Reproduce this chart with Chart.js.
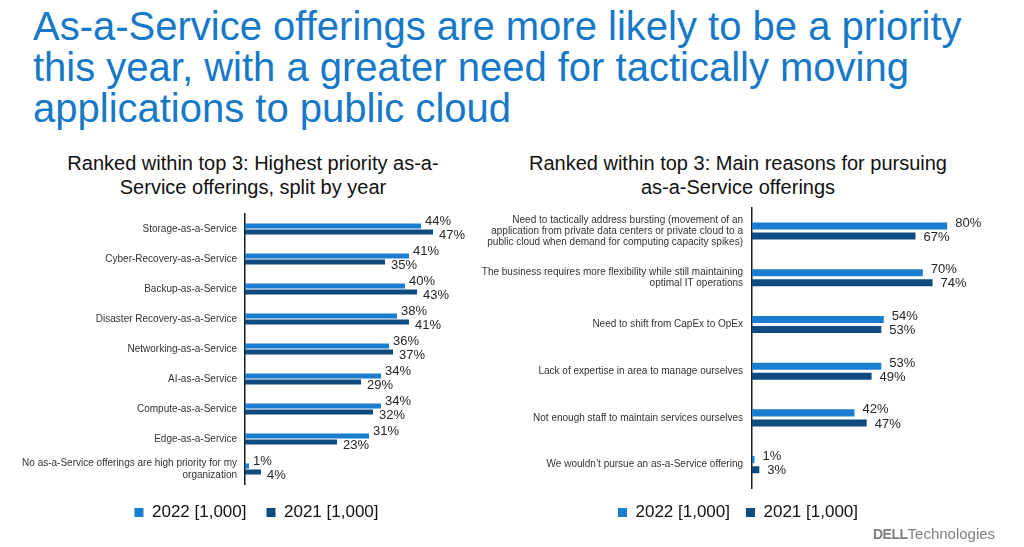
<!DOCTYPE html>
<html>
<head>
<meta charset="utf-8">
<script src="https://cdn.jsdelivr.net/npm/chart.js@4.4.1/dist/chart.umd.min.js"></script>
<style>
  html, body { margin: 0; padding: 0; background: #fff; }
  body { width: 1024px; height: 547px; position: relative; overflow: hidden; font-family: "Liberation Sans", Arial, sans-serif; }
  #title { position: absolute; left: 33px; top: 6px; font-size: 40px; line-height: 41px; color: #1778c8; white-space: nowrap; }
  .sub { position: absolute; font-size: 20px; line-height: 24px; color: #111; text-align: center; white-space: nowrap; }
  #subL { left: 53px; width: 400px; top: 151px; }
  #subR { left: 518px; width: 440px; top: 151px; }
  #cL { position: absolute; left: 16px; top: 194px; }
  #cR { position: absolute; left: 456px; top: 193px; }
  #logo { position: absolute; left: 873px; top: 525px; font-size: 15px; color: #7f7f7f; white-space: nowrap; }
  #logo b { font-size: 14px; letter-spacing: -0.5px; }
</style>
</head>
<body>
<div id="title">As-a-Service offerings are more likely to be a priority<br>this year, with a greater need for tactically moving<br>applications to public cloud</div>
<div class="sub" id="subL">Ranked within top 3: Highest priority as-a-<br>Service offerings, split by year</div>
<div class="sub" id="subR">Ranked within top 3: Main reasons for pursuing<br>as-a-Service offerings</div>
<canvas id="cL" width="484" height="337"></canvas>
<canvas id="cR" width="568" height="338"></canvas>
<div id="logo"><b>DELL</b>Technologies</div>
<script>
// ---- Data ----
const seriesNames = ['2022 [1,000]', '2021 [1,000]'];

const offeringCategories = [
  'Storage-as-a-Service',
  'Cyber-Recovery-as-a-Service',
  'Backup-as-a-Service',
  'Disaster Recovery-as-a-Service',
  'Networking-as-a-Service',
  'AI-as-a-Service',
  'Compute-as-a-Service',
  'Edge-as-a-Service',
  ['No as-a-Service offerings are high priority for my', 'organization']
];
const offerings2022 = [44, 41, 40, 38, 36, 34, 34, 31, 1];
const offerings2021 = [47, 35, 43, 41, 37, 29, 32, 23, 4];

const reasonCategories = [
  ['Need to tactically address bursting (movement of an', 'application from private data centers or private cloud to a', 'public cloud when demand for computing capacity spikes)'],
  ['The business requires more flexibility while still maintaining', 'optimal IT operations'],
  'Need to shift from CapEx to OpEx',
  'Lack of expertise in area to manage ourselves',
  'Not enough staff to maintain services ourselves',
  'We wouldn\u2019t pursue an as-a-Service offering'
];
const reasons2022 = [80, 70, 54, 53, 42, 1];
const reasons2021 = [67, 74, 53, 49, 47, 3];

// ---- Styles ----
const COLOR_2022 = '#1a7dcf';
const COLOR_2021 = '#0f4a80';
const FONT = '"Liberation Sans", Arial, sans-serif';

function valueLabelPlugin(dx22, dy22, dx21, dy21) {
  return {
    id: 'valueLabels',
    afterDatasetsDraw(chart) {
      const ctx = chart.ctx;
      ctx.save();
      ctx.font = '13px ' + FONT;
      ctx.fillStyle = '#262626';
      ctx.textAlign = 'left';
      ctx.textBaseline = 'middle';
      chart.data.datasets.forEach((ds, di) => {
        const meta = chart.getDatasetMeta(di);
        meta.data.forEach((bar, i) => {
          const dx = di === 0 ? dx22 : dx21;
          const dy = di === 0 ? dy22 : dy21;
          ctx.fillText(ds.data[i] + '%', bar.x + dx, bar.y + dy);
        });
      });
      ctx.restore();
    }
  };
}

function legendShiftPlugin(shift) {
  return {
    id: 'legendShift',
    afterLayout(chart) {
      if (chart.legend) { chart.legend.left += shift; chart.legend.right += shift; }
    }
  };
}

function makeChart(id, cats, d22, d21, opts) {
  return new Chart(document.getElementById(id), {
    type: 'bar',
    data: {
      labels: cats,
      datasets: [
        { label: seriesNames[0], data: d22, backgroundColor: COLOR_2022, borderWidth: 0,
          categoryPercentage: opts.catPct, barPercentage: opts.barPct },
        { label: seriesNames[1], data: d21, backgroundColor: COLOR_2021, borderWidth: 0,
          categoryPercentage: opts.catPct, barPercentage: opts.barPct }
      ]
    },
    options: {
      indexAxis: 'y',
      responsive: false,
      animation: false,
      layout: { padding: { top: opts.padTop, right: opts.padRight, bottom: 0, left: 0 } },
      scales: {
        x: { display: false, min: 0, max: opts.xMax },
        y: {
          grid: { display: false, drawTicks: false },
          border: { display: true, color: '#1a1a1a', width: 1.5 },
          ticks: { color: '#333', padding: opts.tickPad, font: { family: FONT, size: 10, lineHeight: opts.lineH } },
          afterFit: s => { s.width = opts.axisW; }
        }
      },
      plugins: {
        legend: {
          position: 'bottom',
          labels: {
            boxWidth: 9, boxHeight: 9, padding: opts.legPad, color: '#111',
            font: { family: FONT, size: 17 }
          }
        },
        tooltip: { enabled: false }
      }
    },
    plugins: [valueLabelPlugin(opts.dx22, opts.dy22, opts.dx21, opts.dy21), legendShiftPlugin(opts.legShift)]
  });
}

makeChart('cL', offeringCategories, offerings2022, offerings2021, {
  catPct: 0.4, barPct: 5 / 6, padTop: 20, padRight: 15, xMax: 60, axisW: 229,
  tickPad: 8, lineH: 1.2, legPad: 20, legShift: 6, dx22: 4, dy22: -5, dx21: 6, dy21: 3
});

makeChart('cR', reasonCategories, reasons2022, reasons2021, {
  catPct: 0.43, barPct: 0.7, padTop: 14.6, padRight: 28, xMax: 100, axisW: 296,
  tickPad: 9, lineH: 1.1, legPad: 16, legShift: 12, dx22: 8, dy22: -3, dx21: 8, dy21: 1
});
</script>
</body>
</html>
